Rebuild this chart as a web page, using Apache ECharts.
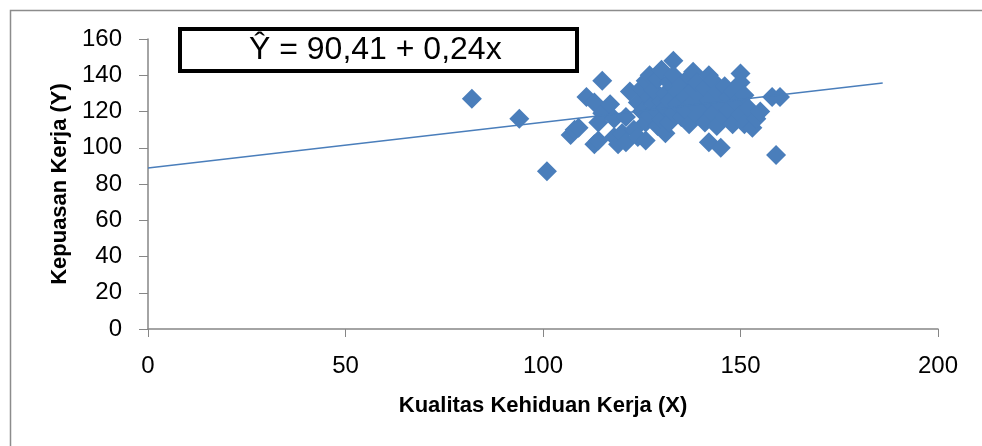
<!DOCTYPE html>
<html>
<head>
<meta charset="utf-8">
<script src="https://cdn.jsdelivr.net/npm/echarts@6/dist/echarts.min.js"></script>
<style>
html,body{margin:0;padding:0;background:#fff;}
#chart{width:982px;height:446px;}
</style>
</head>
<body>
<div id="chart"></div>
<script>
// observed pairs: X = Kualitas Kehiduan Kerja, Y = Kepuasan Kerja
var xValues = [82,94,101,107,108,109,111,113,113,114,114,115,115,117,118,118,119,120,121,121,
  122,123,124,124,125,125,126,126,126,127,127,127,128,128,129,129,129,130,130,130,
  131,131,131,132,132,132,133,133,133,134,134,135,135,136,136,137,137,138,138,138,
  139,139,140,140,141,141,142,142,142,143,143,144,144,145,145,146,146,147,147,148,
  148,149,150,150,150,151,151,152,153,154,155,158,160,159];
var yValues = [127,116,87,107,110,111,128,102,125,114,104,137,119,124,116,106,102,108,117,103,
  131,110,125,106,133,120,104,137,114,128,140,118,124,132,112,138,120,126,143,116,
  108,130,122,136,114,126,148,140,119,131,124,117,135,128,121,139,113,142,125,132,
  118,136,128,122,114,133,140,103,126,137,119,131,112,100,124,134,117,128,121,113,
  131,125,141,136,118,129,113,122,111,116,120,128,128,96];
// fitted line ends as drawn
var trendX = [0, 186];
var trendY = [88.8, 135.7];
var equation = 'Y\u0302 = 90,41 + 0,24x';

var chart = echarts.init(document.getElementById('chart'));
var points = xValues.map(function(x, i){ return [x, yValues[i]]; });
var trend = trendX.map(function(x, i){ return [x, trendY[i]]; });

chart.setOption({
  animation: false,
  textStyle: { fontFamily: 'Liberation Sans' },
  grid: { left: 148, top: 39, right: 44, bottom: 117 },
  graphic: [
    { type: 'rect', left: 8, top: 8, shape: { width: 973, height: 440 },
      style: { fill: 'none', stroke: '#8c8c8c', lineWidth: 1.5 }, silent: true },
    { type: 'rect', left: 178, top: 27, shape: { width: 397, height: 42 },
      style: { fill: '#fff', stroke: '#000', lineWidth: 4 }, z: 100 },
    { type: 'text', z: 101,
      style: { x: 249, y: 50, text: equation, fill: '#000', verticalAlign: 'middle',
        font: '32px "Liberation Sans"' } }
  ],
  xAxis: {
    type: 'value', min: 0, max: 200, interval: 50,
    name: 'Kualitas Kehiduan Kerja (X)', nameLocation: 'middle', nameGap: 66,
    nameTextStyle: { fontSize: 22, fontWeight: 'bold', color: '#000' },
    axisLine: { lineStyle: { color: '#868686', width: 1.5 } },
    axisTick: { length: 8, lineStyle: { color: '#868686' } },
    axisLabel: { fontSize: 24, color: '#000', margin: 25 },
    splitLine: { show: false }
  },
  yAxis: {
    type: 'value', min: 0, max: 160, interval: 20,
    name: 'Kepuasan Kerja (Y)', nameLocation: 'middle', nameGap: 72,
    nameTextStyle: { fontSize: 22, fontWeight: 'bold', color: '#000' },
    axisLine: { show: true, lineStyle: { color: '#868686', width: 1.5 } },
    axisTick: { show: true, length: 9, lineStyle: { color: '#868686' } },
    axisLabel: { fontSize: 24, color: '#000', margin: 26 },
    splitLine: { show: false }
  },
  series: [
    {
      type: 'scatter', data: points, symbol: 'diamond', symbolSize: 20,
      itemStyle: { color: '#4a7ebb', opacity: 1 }
    },
    {
      type: 'line', data: trend, showSymbol: false, symbol: 'none', z: 5,
      lineStyle: { color: '#4a7ebb', width: 1.5 }
    }
  ]
});
</script>
</body>
</html>
